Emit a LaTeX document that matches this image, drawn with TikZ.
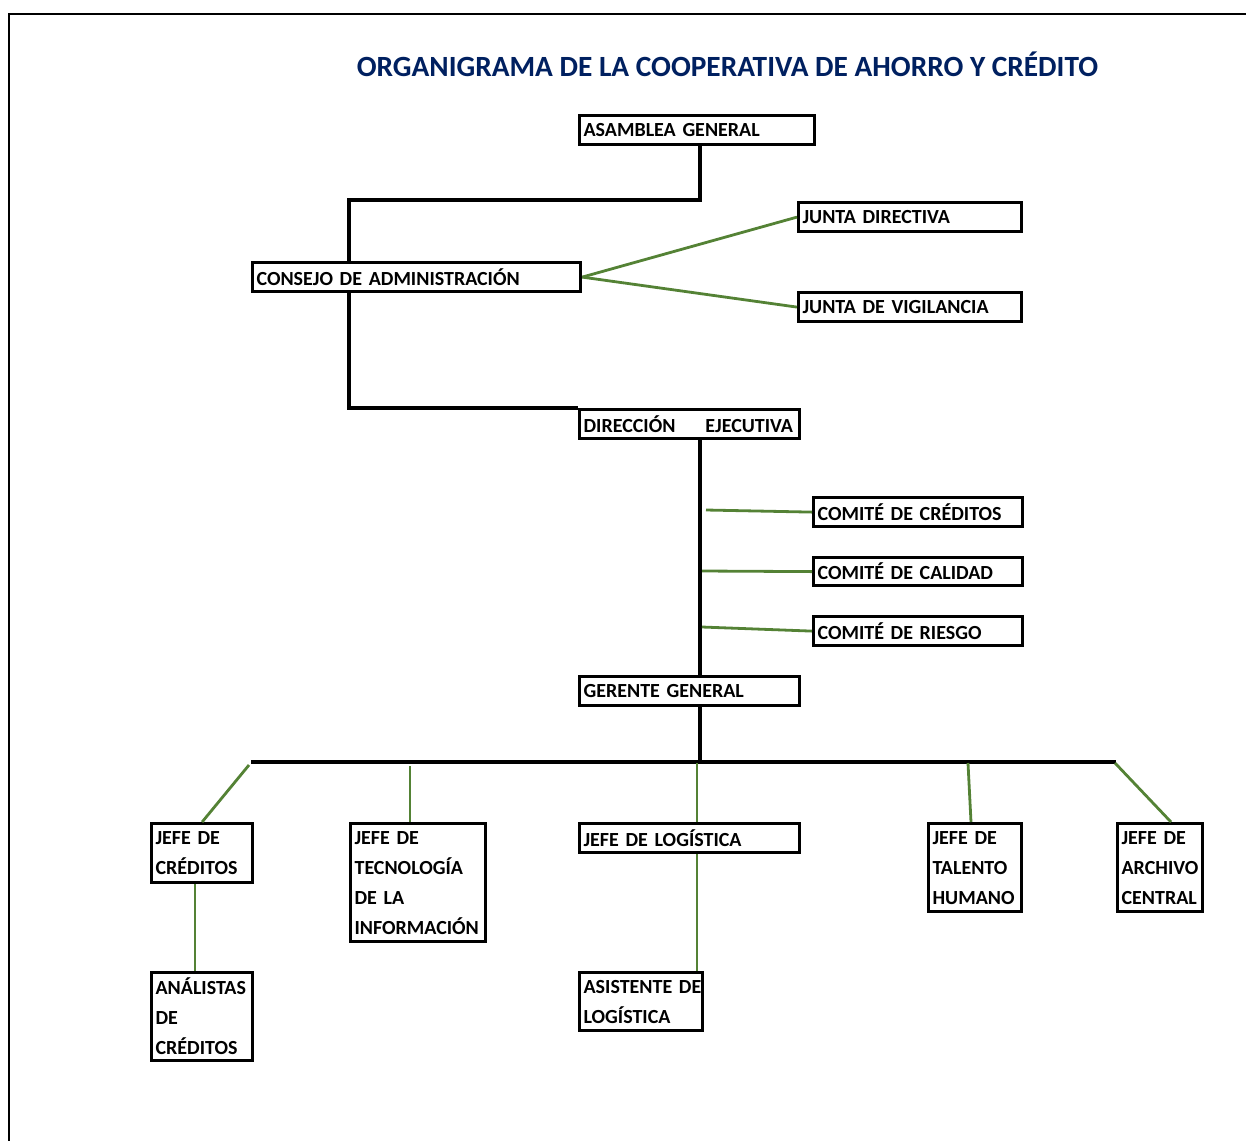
\documentclass[tikz,border=0pt]{standalone}
\usepackage{fontspec}
\setmainfont{Carlito}
\definecolor{navy}{HTML}{002060}
\definecolor{grn}{HTML}{548235}
\tikzset{
  ob/.style={draw, line width=2.4pt, anchor=north west, inner xsep=3pt, inner ysep=0pt, align=left, font=\bfseries\fontsize{15}{22.5}\selectfont},
  blk/.style={line width=2.3pt, black},
  gl/.style={line width=2.1pt, grn},
}
\newcommand\obox[6]{%
  \pgfmathsetmacro\tw{#4*0.75-6}%
  \pgfmathsetmacro\mh{#5*0.75}%
  \node[ob, text width=\tw pt, minimum height=\mh pt] (#1) at (#2,#3) {#6};}
\begin{document}
\begin{tikzpicture}[x=0.75pt,y=-0.75pt]
\useasboundingbox (0,0) rectangle (1246,1140);
\draw[line width=2.2pt] (9,1145) -- (9,14) -- (1250,14);
\node[font=\bfseries\fontsize{22}{26}\selectfont, text=navy] (title) at (727.5,64) {ORGANIGRAMA DE LA COOPERATIVA DE AHORRO Y CRÉDITO};
\obox{asam}{578}{114}{235}{29}{ASAMBLEA GENERAL}
\obox{cons}{251}{261}{328}{29}{CONSEJO DE ADMINISTRACIÓN}
\obox{jdir}{797}{201}{223}{29}{JUNTA DIRECTIVA}
\obox{jvig}{797}{291}{223}{29}{JUNTA DE VIGILANCIA}
\obox{dir}{578}{408}{220}{29}{DIRECCIÓN\hspace{22.5pt}EJECUTIVA}
\obox{ccred}{812}{496}{209}{29}{COMITÉ DE CRÉDITOS}
\obox{ccal}{812}{556}{209}{28}{COMITÉ DE CALIDAD}
\obox{crie}{812}{615}{209}{29}{COMITÉ DE RIESGO}
\obox{ger}{578}{675}{220}{29}{GERENTE GENERAL}
\obox{jcred}{150}{822}{101}{59}{JEFE DE\\CRÉDITOS}
\obox{jtec}{349}{822}{135}{118}{JEFE DE\\TECNOLOGÍA\\DE LA\\INFORMACIÓN}
\obox{jlog}{578}{822}{220}{29}{JEFE DE LOGÍSTICA}
\obox{jtal}{927}{822}{93}{88}{JEFE DE\\TALENTO\\HUMANO}
\obox{jarc}{1116}{822}{85}{88}{JEFE DE\\ARCHIVO\\CENTRAL}
\obox{anal}{150}{971}{101}{88}{ANÁLISTAS\\DE\\CRÉDITOS}
\obox{asis}{578}{971}{123}{58}{\mbox{ASISTENTE DE}\\LOGÍSTICA}
% black connectors
\coordinate (busL) at (251,762);
\coordinate (busR) at (1116,762);
\draw[blk] (asam.south -| 700,0) -- (700,200) -| (cons.north -| 349,0);
\draw[blk] (cons.south -| 349,0) |- (dir.north west);
\draw[blk] (dir.south -| 700,0) -- (ger.north -| 700,0);
\draw[blk] (ger.south -| 700,0) -- (700,762);
\draw[blk] (busL) -- (busR);
% green connectors
\coordinate (c1) at (706,510);
\coordinate (c2) at (702,571);
\coordinate (c3) at (702,627);
\coordinate (b1) at (249,765);
\coordinate (b2) at (410,766);
\coordinate (b3) at (697,763);
\coordinate (b4) at (968,763);
\coordinate (b5) at (1115,763);
\draw[gl] (cons.east) -- (jdir.west);
\draw[gl] (cons.east) -- (jvig.west);
\draw[gl] (c1) -- (ccred.west);
\draw[gl] (c2) -- (ccal.west);
\draw[gl] (c3) -- (crie.west);
\draw[gl] (b1) -- (jcred.north);
\draw[gl] (b2) -- (jtec.north -| b2);
\draw[gl] (b3) -- (jlog.north -| b3);
\draw[gl] (b4) -- (jtal.north -| 971,0);
\draw[gl] (b5) -- (jarc.north -| 1171,0);
\draw[gl] (jcred.south -| 195,0) -- (anal.north -| 195,0);
\draw[gl] (jlog.south -| 697,0) -- (asis.north -| 697,0);
\end{tikzpicture}
\end{document}
